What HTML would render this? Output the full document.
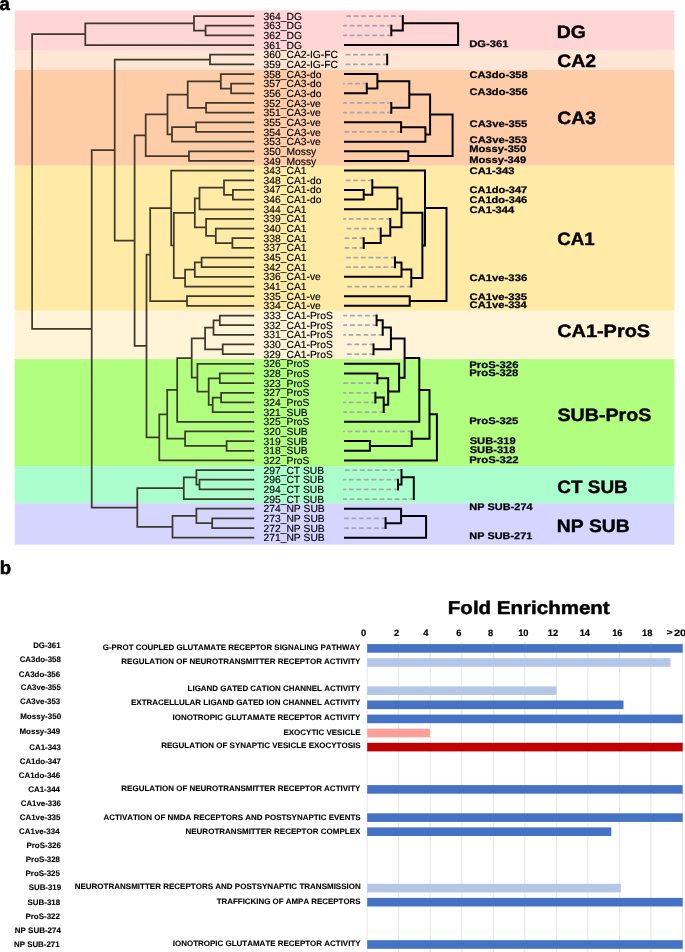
<!DOCTYPE html><html><head><meta charset="utf-8"><style>html,body{margin:0;padding:0;background:#fff;overflow:hidden}svg{display:block;will-change:transform}text{font-family:"Liberation Sans",sans-serif;font-kerning:none;text-rendering:geometricPrecision}</style></head><body>
<svg width="685" height="952" viewBox="0 0 685 952">
<rect width="685" height="952" fill="#fff"/>
<rect x="14.7" y="10.4" width="659.6" height="39.6" fill="#FFD5D5"/>
<rect x="14.7" y="50.0" width="659.6" height="19.9" fill="#FFE5D5"/>
<rect x="14.7" y="69.9" width="659.6" height="95.85" fill="#FFCCA8"/>
<rect x="14.7" y="165.75" width="659.6" height="145.05" fill="#FFEBA6"/>
<rect x="14.7" y="310.8" width="659.6" height="48.3" fill="#FFF4D8"/>
<rect x="14.7" y="359.1" width="659.6" height="107.1" fill="#B2FF80"/>
<rect x="14.7" y="466.2" width="659.6" height="37" fill="#AAFFCC"/>
<rect x="14.7" y="503.2" width="659.6" height="41.4" fill="#D6D5FF"/>
<path d="M205.6 25.71L205.6 35.37M205.6 25.71L253.4 25.71M205.6 35.37L253.4 35.37M194 16.05L194 30.54M194 16.05L253.4 16.05M194 30.54L205.6 30.54M85.3 23.3L85.3 45.03M85.3 23.3L194 23.3M85.3 45.03L253.4 45.03M210 54.69L210 64.35M210 54.69L253.4 54.69M210 64.35L253.4 64.35M231.1 83.67L231.1 93.33M231.1 83.67L253.4 83.67M231.1 93.33L253.4 93.33M220.8 74.01L220.8 88.5M220.8 74.01L253.4 74.01M220.8 88.5L231.1 88.5M206.1 102.99L206.1 112.65M206.1 102.99L253.4 102.99M206.1 112.65L253.4 112.65M187.7 81.25L187.7 107.82M187.7 81.25L220.8 81.25M187.7 107.82L206.1 107.82M196.1 122.31L196.1 131.97M196.1 122.31L253.4 122.31M196.1 131.97L253.4 131.97M172 127.14L172 141.63M172 127.14L196.1 127.14M172 141.63L253.4 141.63M167.5 94.54L167.5 134.38M167.5 94.54L187.7 94.54M167.5 134.38L172 134.38M189 151.29L189 160.95M189 151.29L253.4 151.29M189 160.95L253.4 160.95M145.7 114.46L145.7 156.12M145.7 114.46L167.5 114.46M145.7 156.12L189 156.12M232.9 189.93L232.9 199.59M232.9 189.93L253.4 189.93M232.9 199.59L253.4 199.59M224 180.27L224 194.76M224 180.27L253.4 180.27M224 194.76L232.9 194.76M199.5 187.51L199.5 209.25M199.5 187.51L224 187.51M199.5 209.25L253.4 209.25M232.4 238.23L232.4 247.89M232.4 238.23L253.4 238.23M232.4 247.89L253.4 247.89M215.8 228.57L215.8 243.06M215.8 228.57L253.4 228.57M215.8 243.06L232.4 243.06M206.1 218.91L206.1 235.81M206.1 218.91L253.4 218.91M206.1 235.81L215.8 235.81M194.8 198.38L194.8 227.36M194.8 198.38L199.5 198.38M194.8 227.36L206.1 227.36M201.6 257.55L201.6 267.21M201.6 257.55L253.4 257.55M201.6 267.21L253.4 267.21M194.8 262.38L194.8 276.87M194.8 262.38L201.6 262.38M194.8 276.87L253.4 276.87M185.1 269.62L185.1 286.53M185.1 269.62L194.8 269.62M185.1 286.53L253.4 286.53M173.8 212.87L173.8 278.08M173.8 212.87L194.8 212.87M173.8 278.08L185.1 278.08M171.2 170.61L171.2 245.47M171.2 170.61L253.4 170.61M171.2 245.47L173.8 245.47M187 296.19L187 305.85M187 296.19L253.4 296.19M187 305.85L253.4 305.85M150.2 208.04L150.2 301.02M150.2 208.04L171.2 208.04M150.2 301.02L187 301.02M219.8 315.51L219.8 325.17M219.8 315.51L253.4 315.51M219.8 325.17L253.4 325.17M213.5 320.34L213.5 334.83M213.5 320.34L219.8 320.34M213.5 334.83L253.4 334.83M222.7 344.49L222.7 354.15M222.7 344.49L253.4 344.49M222.7 354.15L253.4 354.15M205.1 327.59L205.1 349.32M205.1 327.59L213.5 327.59M205.1 349.32L222.7 349.32M219.8 373.47L219.8 383.13M219.8 373.47L253.4 373.47M219.8 383.13L253.4 383.13M221.1 392.79L221.1 402.45M221.1 392.79L253.4 392.79M221.1 402.45L253.4 402.45M212.7 397.62L212.7 412.11M212.7 397.62L221.1 397.62M212.7 412.11L253.4 412.11M208.7 378.3L208.7 404.87M208.7 378.3L219.8 378.3M208.7 404.87L212.7 404.87M197.4 363.81L197.4 391.58M197.4 363.81L253.4 363.81M197.4 391.58L208.7 391.58M191.7 338.45L191.7 377.7M191.7 338.45L205.1 338.45M191.7 377.7L197.4 377.7M177.2 358.07L177.2 421.77M177.2 358.07L191.7 358.07M177.2 421.77L253.4 421.77M226.6 441.09L226.6 450.75M226.6 441.09L253.4 441.09M226.6 450.75L253.4 450.75M185.1 431.43L185.1 445.92M185.1 431.43L253.4 431.43M185.1 445.92L226.6 445.92M167.2 389.92L167.2 438.68M167.2 389.92L177.2 389.92M167.2 438.68L185.1 438.68M159.3 414.3L159.3 460.41M159.3 414.3L167.2 414.3M159.3 460.41L253.4 460.41M146.5 254.53L146.5 437.35M146.5 254.53L150.2 254.53M146.5 437.35L159.3 437.35M134.6 135.29L134.6 345.94M134.6 135.29L145.7 135.29M134.6 345.94L146.5 345.94M114.7 59.52L114.7 240.62M114.7 59.52L210 59.52M114.7 240.62L134.6 240.62M199.5 479.73L199.5 489.39M199.5 479.73L253.4 479.73M199.5 489.39L253.4 489.39M196.4 470.07L196.4 484.56M196.4 470.07L253.4 470.07M196.4 484.56L199.5 484.56M183.8 477.32L183.8 499.05M183.8 477.32L196.4 477.32M183.8 499.05L253.4 499.05M212.2 518.37L212.2 528.03M212.2 518.37L253.4 518.37M212.2 528.03L253.4 528.03M196.4 508.71L196.4 523.2M196.4 508.71L253.4 508.71M196.4 523.2L212.2 523.2M172.5 515.96L172.5 537.69M172.5 515.96L196.4 515.96M172.5 537.69L253.4 537.69M137.3 488.18L137.3 526.82M137.3 488.18L183.8 488.18M137.3 526.82L172.5 526.82M91.7 150.07L91.7 507.5M91.7 150.07L114.7 150.07M91.7 507.5L137.3 507.5M32.1 34.16L32.1 328.79M32.1 34.16L85.3 34.16M32.1 328.79L91.7 328.79" stroke="#3d3a2b" stroke-width="1.75" fill="none" stroke-linecap="square"/>
<text x="263.61" y="19.6" font-size="10.3" font-weight="normal" fill="#000" stroke="#000" stroke-width="0.15" stroke-linejoin="round">364_DG</text>
<text x="263.61" y="29.26" font-size="10.3" font-weight="normal" fill="#000" stroke="#000" stroke-width="0.15" stroke-linejoin="round">363_DG</text>
<text x="263.61" y="38.92" font-size="10.3" font-weight="normal" fill="#000" stroke="#000" stroke-width="0.15" stroke-linejoin="round">362_DG</text>
<text x="263.61" y="48.58" font-size="10.3" font-weight="normal" fill="#000" stroke="#000" stroke-width="0.15" stroke-linejoin="round">361_DG</text>
<text x="263.61" y="58.24" font-size="10.3" font-weight="normal" fill="#000" stroke="#000" stroke-width="0.15" stroke-linejoin="round">360_CA2-IG-FC</text>
<text x="263.61" y="67.9" font-size="10.3" font-weight="normal" fill="#000" stroke="#000" stroke-width="0.15" stroke-linejoin="round">359_CA2-IG-FC</text>
<text x="263.61" y="77.56" font-size="10.3" font-weight="normal" fill="#000" stroke="#000" stroke-width="0.15" stroke-linejoin="round">358_CA3-do</text>
<text x="263.61" y="87.22" font-size="10.3" font-weight="normal" fill="#000" stroke="#000" stroke-width="0.15" stroke-linejoin="round">357_CA3-do</text>
<text x="263.61" y="96.88" font-size="10.3" font-weight="normal" fill="#000" stroke="#000" stroke-width="0.15" stroke-linejoin="round">356_CA3-do</text>
<text x="263.61" y="106.54" font-size="10.3" font-weight="normal" fill="#000" stroke="#000" stroke-width="0.15" stroke-linejoin="round">352_CA3-ve</text>
<text x="263.61" y="116.2" font-size="10.3" font-weight="normal" fill="#000" stroke="#000" stroke-width="0.15" stroke-linejoin="round">351_CA3-ve</text>
<text x="263.61" y="125.86" font-size="10.3" font-weight="normal" fill="#000" stroke="#000" stroke-width="0.15" stroke-linejoin="round">355_CA3-ve</text>
<text x="263.61" y="135.52" font-size="10.3" font-weight="normal" fill="#000" stroke="#000" stroke-width="0.15" stroke-linejoin="round">354_CA3-ve</text>
<text x="263.61" y="145.18" font-size="10.3" font-weight="normal" fill="#000" stroke="#000" stroke-width="0.15" stroke-linejoin="round">353_CA3-ve</text>
<text x="263.61" y="154.84" font-size="10.3" font-weight="normal" fill="#000" stroke="#000" stroke-width="0.15" stroke-linejoin="round">350_Mossy</text>
<text x="263.61" y="164.5" font-size="10.3" font-weight="normal" fill="#000" stroke="#000" stroke-width="0.15" stroke-linejoin="round">349_Mossy</text>
<text x="263.61" y="174.16" font-size="10.3" font-weight="normal" fill="#000" stroke="#000" stroke-width="0.15" stroke-linejoin="round">343_CA1</text>
<text x="263.61" y="183.82" font-size="10.3" font-weight="normal" fill="#000" stroke="#000" stroke-width="0.15" stroke-linejoin="round">348_CA1-do</text>
<text x="263.61" y="193.48" font-size="10.3" font-weight="normal" fill="#000" stroke="#000" stroke-width="0.15" stroke-linejoin="round">347_CA1-do</text>
<text x="263.61" y="203.14" font-size="10.3" font-weight="normal" fill="#000" stroke="#000" stroke-width="0.15" stroke-linejoin="round">346_CA1-do</text>
<text x="263.61" y="212.8" font-size="10.3" font-weight="normal" fill="#000" stroke="#000" stroke-width="0.15" stroke-linejoin="round">344_CA1</text>
<text x="263.61" y="222.46" font-size="10.3" font-weight="normal" fill="#000" stroke="#000" stroke-width="0.15" stroke-linejoin="round">339_CA1</text>
<text x="263.61" y="232.12" font-size="10.3" font-weight="normal" fill="#000" stroke="#000" stroke-width="0.15" stroke-linejoin="round">340_CA1</text>
<text x="263.61" y="241.78" font-size="10.3" font-weight="normal" fill="#000" stroke="#000" stroke-width="0.15" stroke-linejoin="round">338_CA1</text>
<text x="263.61" y="251.44" font-size="10.3" font-weight="normal" fill="#000" stroke="#000" stroke-width="0.15" stroke-linejoin="round">337_CA1</text>
<text x="263.61" y="261.1" font-size="10.3" font-weight="normal" fill="#000" stroke="#000" stroke-width="0.15" stroke-linejoin="round">345_CA1</text>
<text x="263.61" y="270.76" font-size="10.3" font-weight="normal" fill="#000" stroke="#000" stroke-width="0.15" stroke-linejoin="round">342_CA1</text>
<text x="263.61" y="280.42" font-size="10.3" font-weight="normal" fill="#000" stroke="#000" stroke-width="0.15" stroke-linejoin="round">336_CA1-ve</text>
<text x="263.61" y="290.08" font-size="10.3" font-weight="normal" fill="#000" stroke="#000" stroke-width="0.15" stroke-linejoin="round">341_CA1</text>
<text x="263.61" y="299.74" font-size="10.3" font-weight="normal" fill="#000" stroke="#000" stroke-width="0.15" stroke-linejoin="round">335_CA1-ve</text>
<text x="263.61" y="309.4" font-size="10.3" font-weight="normal" fill="#000" stroke="#000" stroke-width="0.15" stroke-linejoin="round">334_CA1-ve</text>
<text x="263.61" y="319.06" font-size="10.3" font-weight="normal" fill="#000" stroke="#000" stroke-width="0.15" stroke-linejoin="round">333_CA1-ProS</text>
<text x="263.61" y="328.72" font-size="10.3" font-weight="normal" fill="#000" stroke="#000" stroke-width="0.15" stroke-linejoin="round">332_CA1-ProS</text>
<text x="263.61" y="338.38" font-size="10.3" font-weight="normal" fill="#000" stroke="#000" stroke-width="0.15" stroke-linejoin="round">331_CA1-ProS</text>
<text x="263.61" y="348.04" font-size="10.3" font-weight="normal" fill="#000" stroke="#000" stroke-width="0.15" stroke-linejoin="round">330_CA1-ProS</text>
<text x="263.61" y="357.7" font-size="10.3" font-weight="normal" fill="#000" stroke="#000" stroke-width="0.15" stroke-linejoin="round">329_CA1-ProS</text>
<text x="263.61" y="367.36" font-size="10.3" font-weight="normal" fill="#000" stroke="#000" stroke-width="0.15" stroke-linejoin="round">326_ProS</text>
<text x="263.61" y="377.02" font-size="10.3" font-weight="normal" fill="#000" stroke="#000" stroke-width="0.15" stroke-linejoin="round">328_ProS</text>
<text x="263.61" y="386.68" font-size="10.3" font-weight="normal" fill="#000" stroke="#000" stroke-width="0.15" stroke-linejoin="round">323_ProS</text>
<text x="263.61" y="396.34" font-size="10.3" font-weight="normal" fill="#000" stroke="#000" stroke-width="0.15" stroke-linejoin="round">327_ProS</text>
<text x="263.61" y="406" font-size="10.3" font-weight="normal" fill="#000" stroke="#000" stroke-width="0.15" stroke-linejoin="round">324_ProS</text>
<text x="263.61" y="415.66" font-size="10.3" font-weight="normal" fill="#000" stroke="#000" stroke-width="0.15" stroke-linejoin="round">321_SUB</text>
<text x="263.61" y="425.32" font-size="10.3" font-weight="normal" fill="#000" stroke="#000" stroke-width="0.15" stroke-linejoin="round">325_ProS</text>
<text x="263.61" y="434.98" font-size="10.3" font-weight="normal" fill="#000" stroke="#000" stroke-width="0.15" stroke-linejoin="round">320_SUB</text>
<text x="263.61" y="444.64" font-size="10.3" font-weight="normal" fill="#000" stroke="#000" stroke-width="0.15" stroke-linejoin="round">319_SUB</text>
<text x="263.61" y="454.3" font-size="10.3" font-weight="normal" fill="#000" stroke="#000" stroke-width="0.15" stroke-linejoin="round">318_SUB</text>
<text x="263.61" y="463.96" font-size="10.3" font-weight="normal" fill="#000" stroke="#000" stroke-width="0.15" stroke-linejoin="round">322_ProS</text>
<text x="263.48" y="473.62" font-size="10.3" font-weight="normal" fill="#000" stroke="#000" stroke-width="0.15" stroke-linejoin="round">297_CT SUB</text>
<text x="263.48" y="483.28" font-size="10.3" font-weight="normal" fill="#000" stroke="#000" stroke-width="0.15" stroke-linejoin="round">296_CT SUB</text>
<text x="263.48" y="492.94" font-size="10.3" font-weight="normal" fill="#000" stroke="#000" stroke-width="0.15" stroke-linejoin="round">294_CT SUB</text>
<text x="263.48" y="502.6" font-size="10.3" font-weight="normal" fill="#000" stroke="#000" stroke-width="0.15" stroke-linejoin="round">295_CT SUB</text>
<text x="263.48" y="512.26" font-size="10.3" font-weight="normal" fill="#000" stroke="#000" stroke-width="0.15" stroke-linejoin="round">274_NP SUB</text>
<text x="263.48" y="521.92" font-size="10.3" font-weight="normal" fill="#000" stroke="#000" stroke-width="0.15" stroke-linejoin="round">273_NP SUB</text>
<text x="263.48" y="531.58" font-size="10.3" font-weight="normal" fill="#000" stroke="#000" stroke-width="0.15" stroke-linejoin="round">272_NP SUB</text>
<text x="263.48" y="541.24" font-size="10.3" font-weight="normal" fill="#000" stroke="#000" stroke-width="0.15" stroke-linejoin="round">271_NP SUB</text>
<path d="M391.3 25.71L343.9 25.71M391.3 35.37L343.9 35.37M402.8 16.05L343.9 16.05M387.2 54.69L343.9 54.69M387.2 64.35L343.9 64.35M366.8 83.67L343.9 83.67M391.3 102.99L343.9 102.99M391.3 112.65L343.9 112.65M401.1 131.97L343.9 131.97M372.3 180.27L343.9 180.27M363.7 238.23L343.9 238.23M363.7 247.89L343.9 247.89M380.7 228.57L343.9 228.57M390.3 218.91L343.9 218.91M395 257.55L343.9 257.55M395 267.21L343.9 267.21M411.3 286.53L343.9 286.53M376.6 315.51L343.9 315.51M376.6 325.17L343.9 325.17M382.7 334.83L343.9 334.83M373.5 344.49L343.9 344.49M373.5 354.15L343.9 354.15M377.4 383.13L343.9 383.13M375.4 392.79L343.9 392.79M375.4 402.45L343.9 402.45M383.7 412.11L343.9 412.11M411.7 431.43L343.9 431.43M398 479.73L343.9 479.73M398 489.39L343.9 489.39M401.5 470.07L343.9 470.07M413.8 499.05L343.9 499.05M385.6 518.37L343.9 518.37M385.6 528.03L343.9 528.03" stroke="#a6a8ab" stroke-width="1.75" stroke-dasharray="3.4 4.1" stroke-dashoffset="0" stroke-linecap="round" fill="none"/>
<path d="M391.3 25.71L391.3 35.37M402.8 16.05L402.8 30.54M391.3 30.54L402.8 30.54M458.1 23.3L458.1 45.03M402.8 23.3L458.1 23.3M345 45.03L458.1 45.03M387.2 54.69L387.2 64.35M366.8 83.67L366.8 93.33M345 93.33L366.8 93.33M377.4 74.01L377.4 88.5M345 74.01L377.4 74.01M366.8 88.5L377.4 88.5M391.3 102.99L391.3 112.65M409.3 81.25L409.3 107.82M377.4 81.25L409.3 81.25M391.3 107.82L409.3 107.82M401.1 122.31L401.1 131.97M345 122.31L401.1 122.31M425.4 127.14L425.4 141.63M401.1 127.14L425.4 127.14M345 141.63L425.4 141.63M430.1 94.54L430.1 134.38M409.3 94.54L430.1 94.54M425.4 134.38L430.1 134.38M408.3 151.29L408.3 160.95M345 151.29L408.3 151.29M345 160.95L408.3 160.95M452.6 114.46L452.6 156.12M430.1 114.46L452.6 114.46M408.3 156.12L452.6 156.12M363.7 189.93L363.7 199.59M345 189.93L363.7 189.93M345 199.59L363.7 199.59M372.3 180.27L372.3 194.76M363.7 194.76L372.3 194.76M397.4 187.51L397.4 209.25M372.3 187.51L397.4 187.51M345 209.25L397.4 209.25M363.7 238.23L363.7 247.89M380.7 228.57L380.7 243.06M363.7 243.06L380.7 243.06M390.3 218.91L390.3 235.81M380.7 235.81L390.3 235.81M401.5 198.38L401.5 227.36M397.4 198.38L401.5 198.38M390.3 227.36L401.5 227.36M395 257.55L395 267.21M401.5 262.38L401.5 276.87M395 262.38L401.5 262.38M345 276.87L401.5 276.87M411.3 269.62L411.3 286.53M401.5 269.62L411.3 269.62M422.4 212.87L422.4 278.08M401.5 212.87L422.4 212.87M411.3 278.08L422.4 278.08M425 170.61L425 245.47M345 170.61L425 170.61M422.4 245.47L425 245.47M409.7 296.19L409.7 305.85M345 296.19L409.7 296.19M345 305.85L409.7 305.85M446.5 208.04L446.5 301.02M425 208.04L446.5 208.04M409.7 301.02L446.5 301.02M376.6 315.51L376.6 325.17M382.7 320.34L382.7 334.83M376.6 320.34L382.7 320.34M373.5 344.49L373.5 354.15M390.9 327.59L390.9 349.32M382.7 327.59L390.9 327.59M373.5 349.32L390.9 349.32M377.4 373.47L377.4 383.13M345 373.47L377.4 373.47M375.4 392.79L375.4 402.45M383.7 397.62L383.7 412.11M375.4 397.62L383.7 397.62M388.2 378.3L388.2 404.87M377.4 378.3L388.2 378.3M383.7 404.87L388.2 404.87M399.1 363.81L399.1 391.58M345 363.81L399.1 363.81M388.2 391.58L399.1 391.58M404.6 338.45L404.6 377.7M390.9 338.45L404.6 338.45M399.1 377.7L404.6 377.7M419.3 358.07L419.3 421.77M404.6 358.07L419.3 358.07M345 421.77L419.3 421.77M369.9 441.09L369.9 450.75M345 441.09L369.9 441.09M345 450.75L369.9 450.75M411.7 431.43L411.7 445.92M369.9 445.92L411.7 445.92M429.5 389.92L429.5 438.68M419.3 389.92L429.5 389.92M411.7 438.68L429.5 438.68M436.9 414.3L436.9 460.41M429.5 414.3L436.9 414.3M345 460.41L436.9 460.41M398 479.73L398 489.39M401.5 470.07L401.5 484.56M398 484.56L401.5 484.56M413.8 477.32L413.8 499.05M401.5 477.32L413.8 477.32M385.6 518.37L385.6 528.03M401.1 508.71L401.1 523.2M345 508.71L401.1 508.71M385.6 523.2L401.1 523.2M426.1 515.96L426.1 537.69M401.1 515.96L426.1 515.96M345 537.69L426.1 537.69" stroke="#000" stroke-width="2" fill="none" stroke-linecap="square"/>
<text transform="translate(469.25 46.5) scale(1.1680 1)" font-size="9.6" font-weight="bold" fill="#000" stroke="#000" stroke-width="0.25" stroke-linejoin="round">DG-361</text>
<text transform="translate(469.54 78.2) scale(1.1606 1)" font-size="9.6" font-weight="bold" fill="#000" stroke="#000" stroke-width="0.25" stroke-linejoin="round">CA3do-358</text>
<text transform="translate(469.54 94.7) scale(1.1618 1)" font-size="9.6" font-weight="bold" fill="#000" stroke="#000" stroke-width="0.25" stroke-linejoin="round">CA3do-356</text>
<text transform="translate(469.54 126.6) scale(1.1768 1)" font-size="9.6" font-weight="bold" fill="#000" stroke="#000" stroke-width="0.25" stroke-linejoin="round">CA3ve-355</text>
<text transform="translate(469.54 143.2) scale(1.1788 1)" font-size="9.6" font-weight="bold" fill="#000" stroke="#000" stroke-width="0.25" stroke-linejoin="round">CA3ve-353</text>
<text transform="translate(469.25 152.4) scale(1.1611 1)" font-size="9.6" font-weight="bold" fill="#000" stroke="#000" stroke-width="0.25" stroke-linejoin="round">Mossy-350</text>
<text transform="translate(469.25 162.9) scale(1.1602 1)" font-size="9.6" font-weight="bold" fill="#000" stroke="#000" stroke-width="0.25" stroke-linejoin="round">Mossy-349</text>
<text transform="translate(469.54 173.5) scale(1.1731 1)" font-size="9.6" font-weight="bold" fill="#000" stroke="#000" stroke-width="0.25" stroke-linejoin="round">CA1-343</text>
<text transform="translate(469.55 193.4) scale(1.1514 1)" font-size="9.6" font-weight="bold" fill="#000" stroke="#000" stroke-width="0.25" stroke-linejoin="round">CA1do-347</text>
<text transform="translate(469.55 203.2) scale(1.1497 1)" font-size="9.6" font-weight="bold" fill="#000" stroke="#000" stroke-width="0.25" stroke-linejoin="round">CA1do-346</text>
<text transform="translate(469.54 213) scale(1.1640 1)" font-size="9.6" font-weight="bold" fill="#000" stroke="#000" stroke-width="0.25" stroke-linejoin="round">CA1-344</text>
<text transform="translate(469.54 280.5) scale(1.1746 1)" font-size="9.6" font-weight="bold" fill="#000" stroke="#000" stroke-width="0.25" stroke-linejoin="round">CA1ve-336</text>
<text transform="translate(469.54 300.1) scale(1.1727 1)" font-size="9.6" font-weight="bold" fill="#000" stroke="#000" stroke-width="0.25" stroke-linejoin="round">CA1ve-335</text>
<text transform="translate(469.54 308.2) scale(1.1675 1)" font-size="9.6" font-weight="bold" fill="#000" stroke="#000" stroke-width="0.25" stroke-linejoin="round">CA1ve-334</text>
<text transform="translate(469.24 367.5) scale(1.1838 1)" font-size="9.6" font-weight="bold" fill="#000" stroke="#000" stroke-width="0.25" stroke-linejoin="round">ProS-326</text>
<text transform="translate(469.24 376) scale(1.1823 1)" font-size="9.6" font-weight="bold" fill="#000" stroke="#000" stroke-width="0.25" stroke-linejoin="round">ProS-328</text>
<text transform="translate(469.24 424) scale(1.1815 1)" font-size="9.6" font-weight="bold" fill="#000" stroke="#000" stroke-width="0.25" stroke-linejoin="round">ProS-325</text>
<text transform="translate(469.68 444) scale(1.1634 1)" font-size="9.6" font-weight="bold" fill="#000" stroke="#000" stroke-width="0.25" stroke-linejoin="round">SUB-319</text>
<text transform="translate(469.68 453.2) scale(1.1616 1)" font-size="9.6" font-weight="bold" fill="#000" stroke="#000" stroke-width="0.25" stroke-linejoin="round">SUB-318</text>
<text transform="translate(469.24 462.5) scale(1.1849 1)" font-size="9.6" font-weight="bold" fill="#000" stroke="#000" stroke-width="0.25" stroke-linejoin="round">ProS-322</text>
<text transform="translate(469.27 510.4) scale(1.1425 1)" font-size="9.6" font-weight="bold" fill="#000" stroke="#000" stroke-width="0.25" stroke-linejoin="round">NP SUB-274</text>
<text transform="translate(469.27 538.5) scale(1.1360 1)" font-size="9.6" font-weight="bold" fill="#000" stroke="#000" stroke-width="0.25" stroke-linejoin="round">NP SUB-271</text>
<text transform="translate(556.7 38.4) scale(1.0778 1)" font-size="18" font-weight="bold" fill="#000" stroke="#000" stroke-width="0.4" stroke-linejoin="round">DG</text>
<text transform="translate(557.2 67.3) scale(1.0796 1)" font-size="18" font-weight="bold" fill="#000" stroke="#000" stroke-width="0.4" stroke-linejoin="round">CA2</text>
<text transform="translate(557.2 124.3) scale(1.0774 1)" font-size="18" font-weight="bold" fill="#000" stroke="#000" stroke-width="0.4" stroke-linejoin="round">CA3</text>
<text transform="translate(557.23 245) scale(1.0411 1)" font-size="18" font-weight="bold" fill="#000" stroke="#000" stroke-width="0.4" stroke-linejoin="round">CA1</text>
<text transform="translate(557.18 336.5) scale(1.1057 1)" font-size="18" font-weight="bold" fill="#000" stroke="#000" stroke-width="0.4" stroke-linejoin="round">CA1-ProS</text>
<text transform="translate(557.43 420.5) scale(1.0921 1)" font-size="18" font-weight="bold" fill="#000" stroke="#000" stroke-width="0.4" stroke-linejoin="round">SUB-ProS</text>
<text transform="translate(557.22 493) scale(1.0528 1)" font-size="18" font-weight="bold" fill="#000" stroke="#000" stroke-width="0.4" stroke-linejoin="round">CT SUB</text>
<text transform="translate(556.71 531.9) scale(1.0729 1)" font-size="18" font-weight="bold" fill="#000" stroke="#000" stroke-width="0.4" stroke-linejoin="round">NP SUB</text>
<text x="-0.54" y="9.8" font-size="18.6" font-weight="bold" fill="#000" stroke="#000" stroke-width="0.5" stroke-linejoin="round">a</text>
<text x="-0.33" y="573.6" font-size="18.6" font-weight="bold" fill="#000" stroke="#000" stroke-width="0.5" stroke-linejoin="round">b</text>
<rect x="366.7" y="641.3" width="1" height="310.7" fill="#e6e6e6"/>
<rect x="398.22" y="641.3" width="1" height="310.7" fill="#e6e6e6"/>
<rect x="429.74" y="641.3" width="1" height="310.7" fill="#e6e6e6"/>
<rect x="461.26" y="641.3" width="1" height="310.7" fill="#e6e6e6"/>
<rect x="492.78" y="641.3" width="1" height="310.7" fill="#e6e6e6"/>
<rect x="524.3" y="641.3" width="1" height="310.7" fill="#e6e6e6"/>
<rect x="555.82" y="641.3" width="1" height="310.7" fill="#e6e6e6"/>
<rect x="587.34" y="641.3" width="1" height="310.7" fill="#e6e6e6"/>
<rect x="618.86" y="641.3" width="1" height="310.7" fill="#e6e6e6"/>
<rect x="650.38" y="641.3" width="1" height="310.7" fill="#e6e6e6"/>
<rect x="681.9" y="641.3" width="1" height="310.7" fill="#e6e6e6"/>
<text x="361.02" y="635.6" font-size="9.3" font-weight="bold" fill="#000" stroke="#000" stroke-width="0.2" stroke-linejoin="round">0</text>
<text x="393.94" y="635.6" font-size="9.3" font-weight="bold" fill="#000" stroke="#000" stroke-width="0.2" stroke-linejoin="round">2</text>
<text x="423.27" y="635.6" font-size="9.3" font-weight="bold" fill="#000" stroke="#000" stroke-width="0.2" stroke-linejoin="round">4</text>
<text x="456.21" y="635.6" font-size="9.3" font-weight="bold" fill="#000" stroke="#000" stroke-width="0.2" stroke-linejoin="round">6</text>
<text x="487.91" y="635.6" font-size="9.3" font-weight="bold" fill="#000" stroke="#000" stroke-width="0.2" stroke-linejoin="round">8</text>
<text x="518.13" y="635.6" font-size="9.3" font-weight="bold" fill="#000" stroke="#000" stroke-width="0.2" stroke-linejoin="round">10</text>
<text x="547.82" y="635.6" font-size="9.3" font-weight="bold" fill="#000" stroke="#000" stroke-width="0.2" stroke-linejoin="round">12</text>
<text x="579.66" y="635.6" font-size="9.3" font-weight="bold" fill="#000" stroke="#000" stroke-width="0.2" stroke-linejoin="round">14</text>
<text x="612.2" y="635.6" font-size="9.3" font-weight="bold" fill="#000" stroke="#000" stroke-width="0.2" stroke-linejoin="round">16</text>
<text x="642.08" y="635.6" font-size="9.3" font-weight="bold" fill="#000" stroke="#000" stroke-width="0.2" stroke-linejoin="round">18</text>
<text transform="translate(666.56 635.3) scale(1.2582 1)" font-size="8.4" font-weight="bold" fill="#000" stroke="#000" stroke-width="0.2" stroke-linejoin="round">&gt;</text>
<text transform="translate(673.92 635.6) scale(1.1929 1)" font-size="9.3" font-weight="bold" fill="#000" stroke="#000" stroke-width="0.2" stroke-linejoin="round">20</text>
<text transform="translate(447.83 614) scale(1.1155 1)" font-size="18.4" font-weight="bold" fill="#000" stroke="#000" stroke-width="0.45" stroke-linejoin="round">Fold Enrichment</text>
<text transform="translate(33.18 647.95) scale(0.9760 1)" font-size="8" font-weight="bold" fill="#000" stroke="#000" stroke-width="0.1" stroke-linejoin="round">DG-361</text>
<text transform="translate(19.68 662.25) scale(0.9851 1)" font-size="8" font-weight="bold" fill="#000" stroke="#000" stroke-width="0.1" stroke-linejoin="round">CA3do-358</text>
<text transform="translate(18.67 676.55) scale(0.9934 1)" font-size="8" font-weight="bold" fill="#000" stroke="#000" stroke-width="0.1" stroke-linejoin="round">CA3do-356</text>
<text transform="translate(20.78 690.35) scale(0.9786 1)" font-size="8" font-weight="bold" fill="#000" stroke="#000" stroke-width="0.1" stroke-linejoin="round">CA3ve-355</text>
<text transform="translate(19.98 704.15) scale(0.9827 1)" font-size="8" font-weight="bold" fill="#000" stroke="#000" stroke-width="0.1" stroke-linejoin="round">CA3ve-353</text>
<text transform="translate(20.16 718.55) scale(1.0013 1)" font-size="8" font-weight="bold" fill="#000" stroke="#000" stroke-width="0.1" stroke-linejoin="round">Mossy-350</text>
<text transform="translate(19.47 733.85) scale(0.9956 1)" font-size="8" font-weight="bold" fill="#000" stroke="#000" stroke-width="0.1" stroke-linejoin="round">Mossy-349</text>
<text transform="translate(29.28 749.65) scale(0.9873 1)" font-size="8" font-weight="bold" fill="#000" stroke="#000" stroke-width="0.1" stroke-linejoin="round">CA1-343</text>
<text transform="translate(19.68 763.65) scale(0.9876 1)" font-size="8" font-weight="bold" fill="#000" stroke="#000" stroke-width="0.1" stroke-linejoin="round">CA1do-347</text>
<text transform="translate(18.67 777.65) scale(0.9934 1)" font-size="8" font-weight="bold" fill="#000" stroke="#000" stroke-width="0.1" stroke-linejoin="round">CA1do-346</text>
<text transform="translate(28.28 791.55) scale(0.9891 1)" font-size="8" font-weight="bold" fill="#000" stroke="#000" stroke-width="0.1" stroke-linejoin="round">CA1-344</text>
<text transform="translate(20.78 805.55) scale(0.9802 1)" font-size="8" font-weight="bold" fill="#000" stroke="#000" stroke-width="0.1" stroke-linejoin="round">CA1ve-336</text>
<text transform="translate(19.67 820.35) scale(0.9960 1)" font-size="8" font-weight="bold" fill="#000" stroke="#000" stroke-width="0.1" stroke-linejoin="round">CA1ve-335</text>
<text transform="translate(19.08 833.95) scale(0.9891 1)" font-size="8" font-weight="bold" fill="#000" stroke="#000" stroke-width="0.1" stroke-linejoin="round">CA1ve-334</text>
<text transform="translate(26.47 847.95) scale(0.9923 1)" font-size="8" font-weight="bold" fill="#000" stroke="#000" stroke-width="0.1" stroke-linejoin="round">ProS-326</text>
<text transform="translate(25.87 861.95) scale(0.9822 1)" font-size="8" font-weight="bold" fill="#000" stroke="#000" stroke-width="0.1" stroke-linejoin="round">ProS-328</text>
<text transform="translate(25.57 875.65) scale(0.9904 1)" font-size="8" font-weight="bold" fill="#000" stroke="#000" stroke-width="0.1" stroke-linejoin="round">ProS-325</text>
<text transform="translate(28.77 890.15) scale(0.9822 1)" font-size="8" font-weight="bold" fill="#000" stroke="#000" stroke-width="0.1" stroke-linejoin="round">SUB-319</text>
<text transform="translate(27.57 904.65) scale(0.9900 1)" font-size="8" font-weight="bold" fill="#000" stroke="#000" stroke-width="0.1" stroke-linejoin="round">SUB-318</text>
<text transform="translate(25.47 918.75) scale(0.9933 1)" font-size="8" font-weight="bold" fill="#000" stroke="#000" stroke-width="0.1" stroke-linejoin="round">ProS-322</text>
<text transform="translate(14.77 933.05) scale(0.9965 1)" font-size="8" font-weight="bold" fill="#000" stroke="#000" stroke-width="0.1" stroke-linejoin="round">NP SUB-274</text>
<text transform="translate(13.97 947.15) scale(0.9872 1)" font-size="8" font-weight="bold" fill="#000" stroke="#000" stroke-width="0.1" stroke-linejoin="round">NP SUB-271</text>
<text transform="translate(102.78 649.6) scale(0.9913 1)" font-size="7.97" font-weight="bold" fill="#000" stroke="#000" stroke-width="0.1" stroke-linejoin="round">G-PROT COUPLED GLUTAMATE RECEPTOR SIGNALING PATHWAY</text>
<text x="121.37" y="663.7" font-size="7.97" font-weight="bold" fill="#000" stroke="#000" stroke-width="0.1" stroke-linejoin="round">REGULATION OF NEUROTRANSMITTER RECEPTOR ACTIVITY</text>
<text transform="translate(187.57 691) scale(0.9985 1)" font-size="7.97" font-weight="bold" fill="#000" stroke="#000" stroke-width="0.1" stroke-linejoin="round">LIGAND GATED CATION CHANNEL ACTIVITY</text>
<text transform="translate(130.97 705.3) scale(1.0024 1)" font-size="7.97" font-weight="bold" fill="#000" stroke="#000" stroke-width="0.1" stroke-linejoin="round">EXTRACELLULAR LIGAND GATED ION CHANNEL ACTIVITY</text>
<text x="172.57" y="719.9" font-size="7.97" font-weight="bold" fill="#000" stroke="#000" stroke-width="0.1" stroke-linejoin="round">IONOTROPIC GLUTAMATE RECEPTOR ACTIVITY</text>
<text transform="translate(283.47 734.5) scale(1.0011 1)" font-size="7.97" font-weight="bold" fill="#000" stroke="#000" stroke-width="0.1" stroke-linejoin="round">EXOCYTIC VESICLE</text>
<text transform="translate(161.27 748) scale(1.0026 1)" font-size="7.97" font-weight="bold" fill="#000" stroke="#000" stroke-width="0.1" stroke-linejoin="round">REGULATION OF SYNAPTIC VESICLE EXOCYTOSIS</text>
<text x="121.37" y="790.8" font-size="7.97" font-weight="bold" fill="#000" stroke="#000" stroke-width="0.1" stroke-linejoin="round">REGULATION OF NEUROTRANSMITTER RECEPTOR ACTIVITY</text>
<text transform="translate(103.4 819.7) scale(0.9980 1)" font-size="7.97" font-weight="bold" fill="#000" stroke="#000" stroke-width="0.1" stroke-linejoin="round">ACTIVATION OF NMDA RECEPTORS AND POSTSYNAPTIC EVENTS</text>
<text transform="translate(185.46 834) scale(1.0051 1)" font-size="7.97" font-weight="bold" fill="#000" stroke="#000" stroke-width="0.1" stroke-linejoin="round">NEUROTRANSMITTER RECEPTOR COMPLEX</text>
<text transform="translate(74.66 889.1) scale(1.0051 1)" font-size="7.97" font-weight="bold" fill="#000" stroke="#000" stroke-width="0.1" stroke-linejoin="round">NEUROTRANSMITTER RECEPTORS AND POSTSYNAPTIC TRANSMISSION</text>
<text transform="translate(216.71 903.9) scale(0.9939 1)" font-size="7.97" font-weight="bold" fill="#000" stroke="#000" stroke-width="0.1" stroke-linejoin="round">TRAFFICKING OF AMPA RECEPTORS</text>
<text x="172.87" y="946.4" font-size="7.97" font-weight="bold" fill="#000" stroke="#000" stroke-width="0.1" stroke-linejoin="round">IONOTROPIC GLUTAMATE RECEPTOR ACTIVITY</text>
<rect x="367.2" y="644.1" width="315.5" height="8.6" fill="#4472C4"/>
<rect x="367.2" y="658.2" width="303.3" height="8.6" fill="#B4C7E7"/>
<rect x="367.2" y="686.4" width="189.3" height="8.6" fill="#B4C7E7"/>
<rect x="367.2" y="700.5" width="256.3" height="8.6" fill="#4472C4"/>
<rect x="367.2" y="714.6" width="315.5" height="8.6" fill="#4472C4"/>
<rect x="367.2" y="728.7" width="62.7" height="8.6" fill="#FF9F97"/>
<rect x="367.2" y="742.8" width="315.5" height="8.6" fill="#C00000"/>
<rect x="367.2" y="785.1" width="315.5" height="8.6" fill="#4472C4"/>
<rect x="367.2" y="813.3" width="315.5" height="8.6" fill="#4472C4"/>
<rect x="367.2" y="827.4" width="244.1" height="8.6" fill="#4472C4"/>
<rect x="367.2" y="883.8" width="253.7" height="8.6" fill="#B4C7E7"/>
<rect x="367.2" y="897.9" width="315.5" height="8.6" fill="#4472C4"/>
<rect x="367.2" y="940.2" width="315.5" height="8.6" fill="#4472C4"/>
</svg></body></html>
